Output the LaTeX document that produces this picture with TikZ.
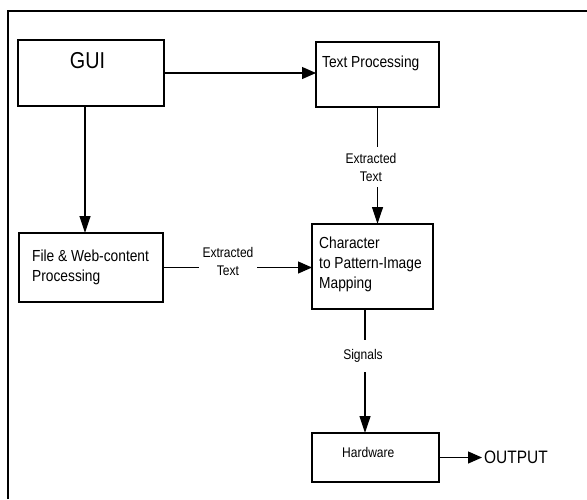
\documentclass[tikz,border=0pt]{standalone}
\usepackage{fontspec}
\setmainfont{Liberation Sans}[FakeStretch=0.86]
\usetikzlibrary{arrows.meta}
\begin{document}
\begin{tikzpicture}[x=1pt,y=-1pt,
  box/.style={draw, line width=1.4pt, inner sep=0pt, outer sep=0pt},
  txt/.style={inner sep=0pt, anchor=base west, font=\fontsize{16}{20}\selectfont},
  lbl/.style={fill=white, align=center, inner ysep=6pt, inner xsep=4pt,
              font=\fontsize{14}{18}\selectfont},
  link/.style={line width=1.2pt},
  harr/.style={link, -{Triangle[length=14pt,width=12pt]}},
  varr/.style={link, -{Triangle[length=17pt,width=11pt]}}]
  \useasboundingbox (0,0) rectangle (587,499);

  % open frame: left and top edges only
  \draw[line width=1.4pt] (8,499) -- (8,11) -- (587,11);

  % blocks
  \node[box, minimum width=146pt, minimum height=66pt] (gui)  at (91,73)    {};
  \node[box, minimum width=123pt, minimum height=65pt] (tp)   at (377.5,74.5) {};
  \node[box, minimum width=144pt, minimum height=69pt] (file) at (91,267.5) {};
  \node[box, minimum width=121pt, minimum height=85pt] (chr)  at (372.5,266.5) {};
  \node[box, minimum width=127pt, minimum height=49pt] (hw)   at (375.5,457.5) {};

  % block texts
  \node[inner sep=0pt, anchor=base, font=\fontsize{23}{27}\selectfont] (guit) at (87.5,68) {GUI};
  \node[txt] (tpt) at (322,67) {Text Processing};
  \node[txt] (filet1) at (32,261) {File \& Web-content};
  \node[txt] (filet2) at (32,281) {Processing};
  \node[txt] (chrt1) at (319,248) {Character};
  \node[txt] (chrt2) at (319,268) {to Pattern-Image};
  \node[txt] (chrt3) at (319,288) {Mapping};
  \node[txt, font=\fontsize{14}{18}\selectfont] (hwt) at (342,457) {Hardware};
  \node[inner sep=2pt, anchor=west, font=\fontsize{18}{22}\selectfont] (out) at (482,457.5) {OUTPUT};

  % connectors
  \draw[harr] (gui.east) -- (gui.east -| tp.west);
  \draw[varr] ([xshift=-6pt]gui.south) -- ([xshift=-6pt]gui.south |- file.north);
  \draw[varr] (tp.south) -- (tp.south |- chr.north);
  \draw[harr] (file.east) -- (file.east -| chr.west);
  \draw[varr] ([xshift=-7.5pt]chr.south) -- ([xshift=-7.5pt]chr.south |- hw.north);
  \draw[harr] (hw.east) -- (out.west);

  % connector labels
  \node[lbl] (l1) at (371,167) {Extracted\\Text};
  \node[lbl] (l2) at (228,261) {Extracted\\Text};
  \node[lbl, inner ysep=9pt] (l3) at (363,356) {Signals};
\end{tikzpicture}
\end{document}
